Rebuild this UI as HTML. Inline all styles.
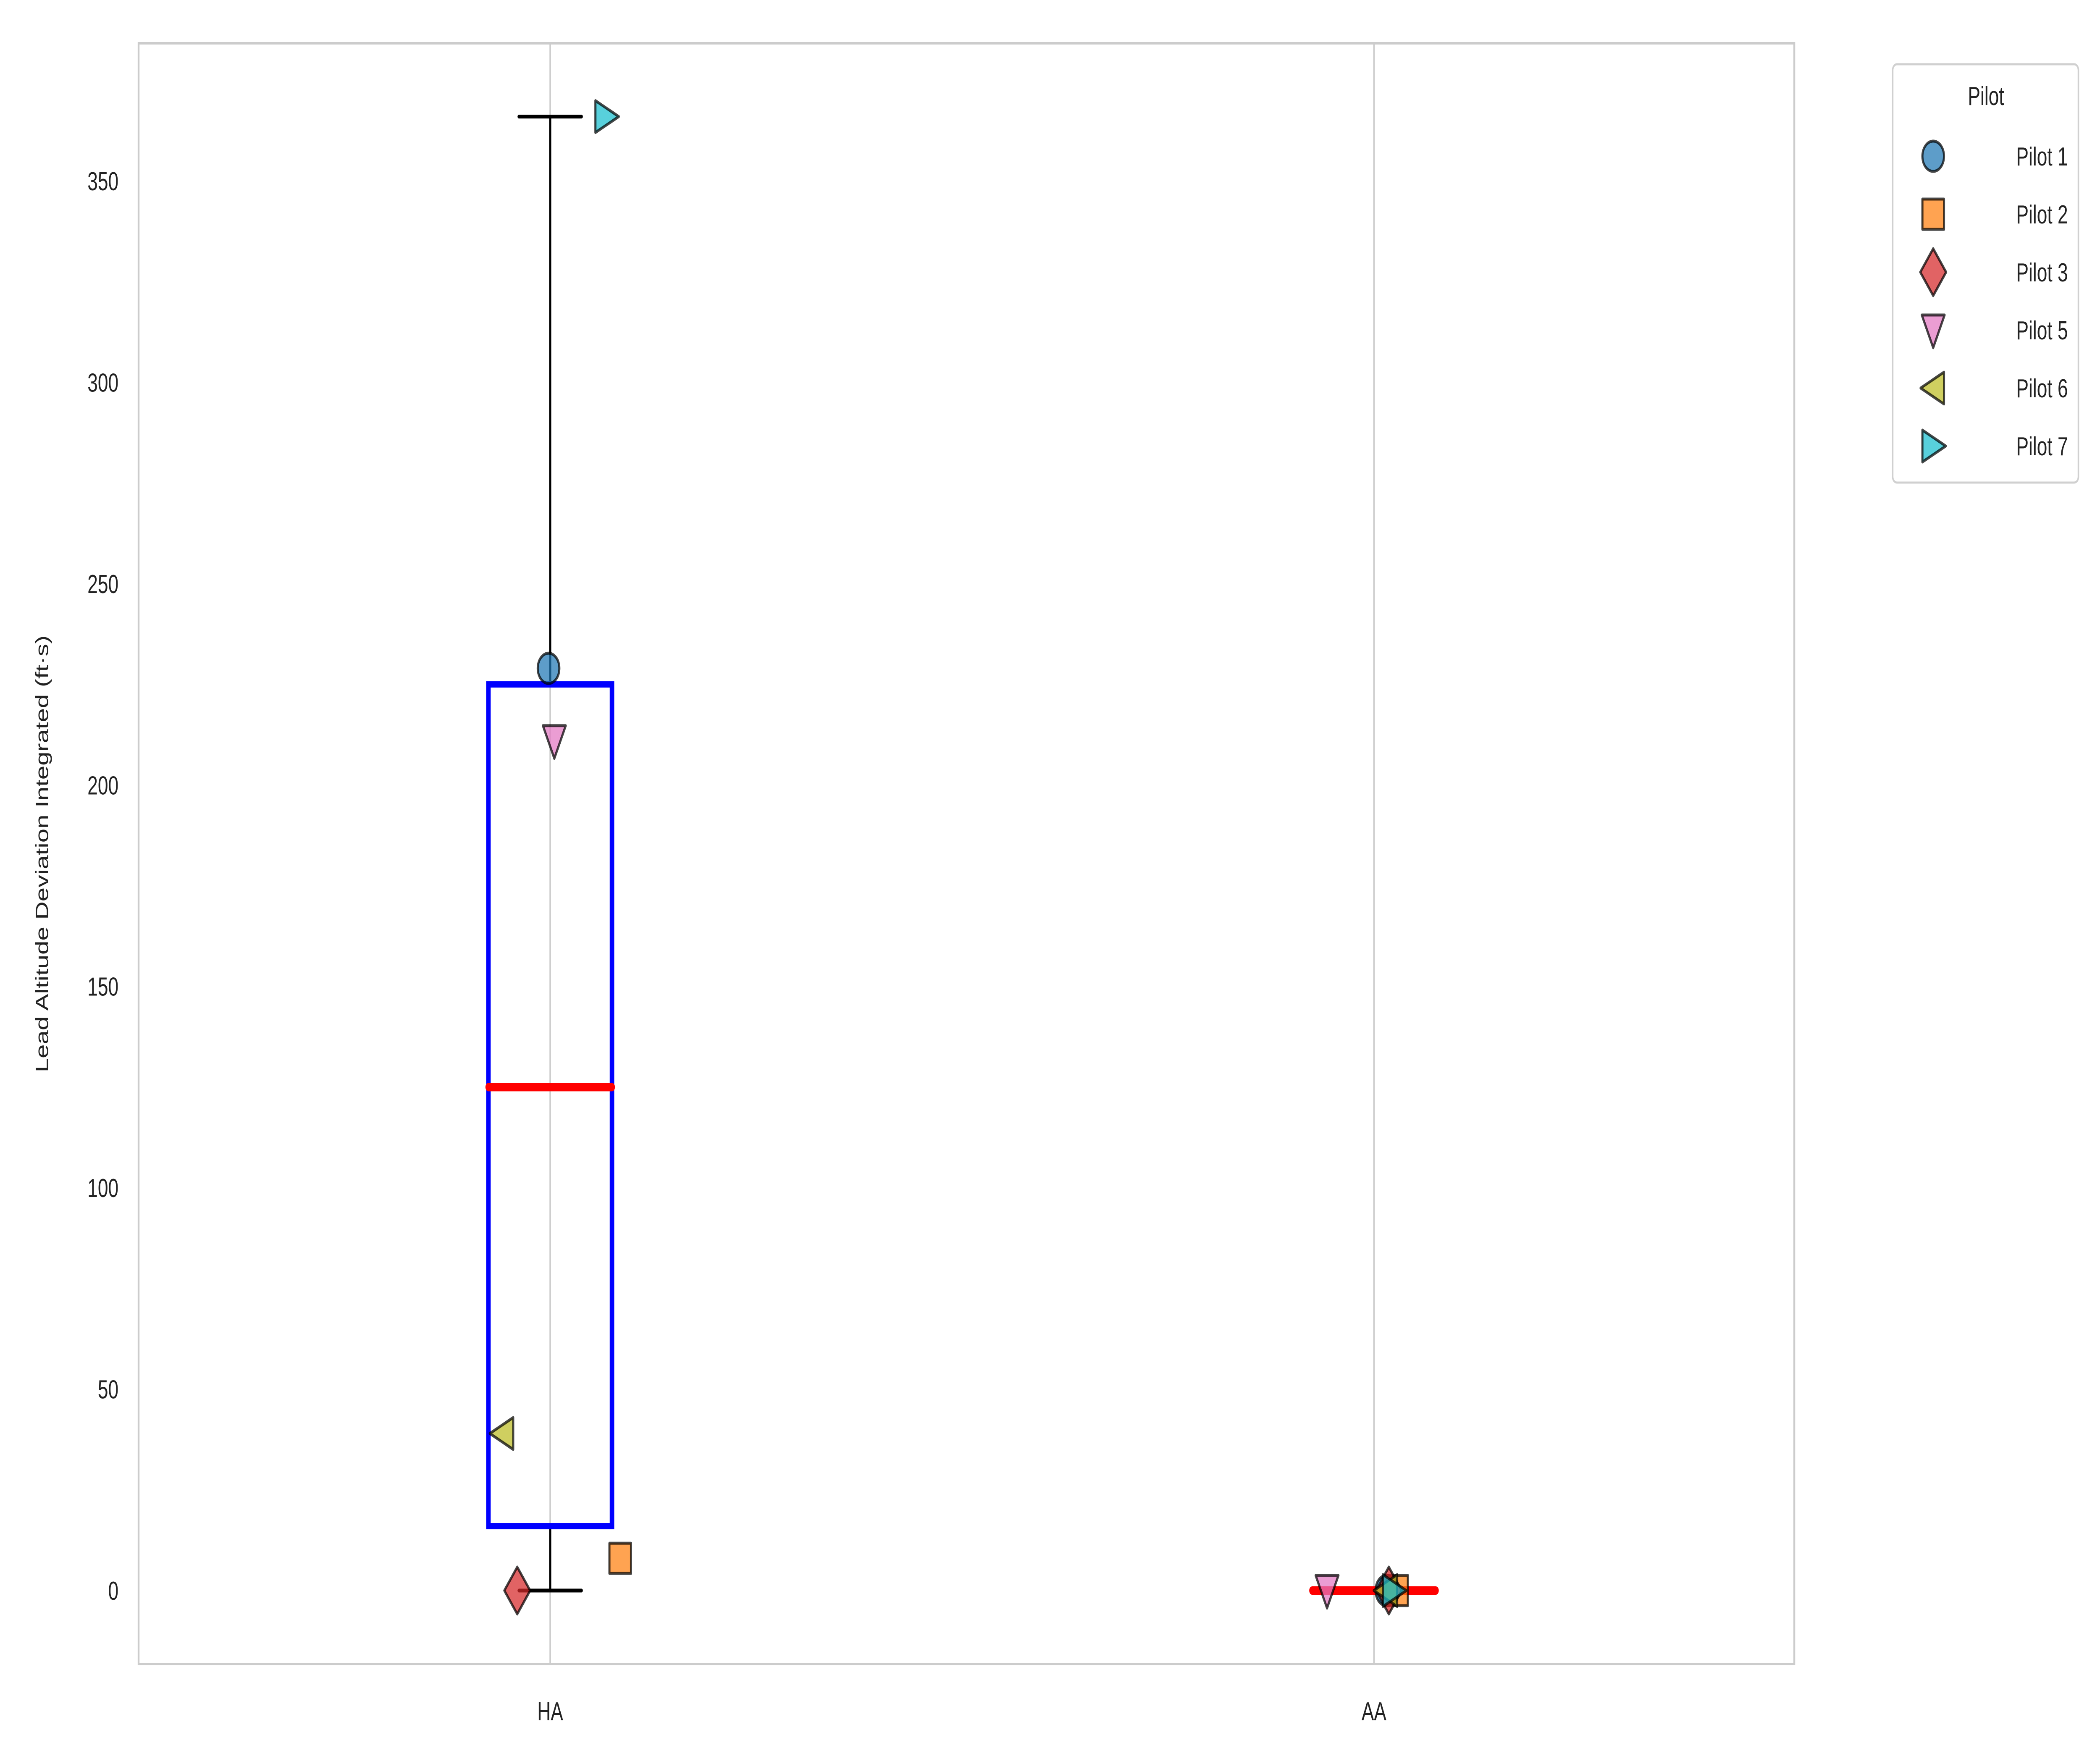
<!DOCTYPE html>
<html><head><meta charset="utf-8"><style>
html,body{margin:0;padding:0;background:#fff;width:100vw;height:100vh;overflow:hidden;}
svg{display:block;font-family:"Liberation Sans",Arial,sans-serif;width:100vw;height:100vh;}
</style></head><body>
<svg id="chart" viewBox="0 0 7000 4200" preserveAspectRatio="none" xmlns="http://www.w3.org/2000/svg">
<rect width="7000" height="4200" fill="#fff"/>
<g id="grid"></g>
<g id="boxes"></g>
<g id="points"></g>
<rect x="462" y="103" width="5519" height="3859" fill="none" stroke="#cccccc" stroke-width="6"/>
<g id="yticks"></g>
<g id="xticks"></g>
<text x="0" y="0" transform="translate(160,2033) rotate(-90)" font-size="60" fill="#222" text-anchor="middle">Lead Altitude Deviation Integrated (ft·s)</text>
<g id="legend">
<rect x="6309" y="153" width="619" height="996" rx="14" fill="#fff" stroke="#d0d0d0" stroke-width="5"/>
<text x="6620" y="250" font-size="62" fill="#222" text-anchor="middle">Pilot</text>
</g>
</svg>
<script>
const categories = ["HA", "AA"];
const pilots = ["Pilot 1", "Pilot 2", "Pilot 3", "Pilot 5", "Pilot 6", "Pilot 7"];
const colors = ["#1f77b4", "#ff7f0e", "#d62728", "#e377c2", "#bcbd22", "#17becf"];
const shapes = ["circle", "square", "diamond", "down", "left", "right"];
const haValues = [229, 8, 0, 211, 39, 366];
const aaValues = [0, 0, 0, 0, 0, 0];
const haJitter = [-0.002, 0.085, -0.04, 0.005, -0.058, 0.068];
const aaJitter = [0.015, 0.028, 0.018, -0.057, 0.015, 0.024];
const boxQ1 = [16, 0];
const boxMedian = [125, 0];
const boxQ3 = [225, 0];
const whiskerLow = [0, 0];
const whiskerHigh = [366, 0];
const yTicks = [0, 50, 100, 150, 200, 250, 300, 350];

const NS = "http://www.w3.org/2000/svg";
const X0 = 1834, XSTEP = 2746;
const xs = c => X0 + c * XSTEP;
const ys = v => 3787 - v * (3787 - 431) / 350;
function mk(tag, attrs, parent) {
  const e = document.createElementNS(NS, tag);
  for (const k in attrs) e.setAttribute(k, attrs[k]);
  parent.appendChild(e);
  return e;
}
const grid = document.getElementById("grid");
const boxes = document.getElementById("boxes");
const pts = document.getElementById("points");
const yt = document.getElementById("yticks");
const xt = document.getElementById("xticks");
const lg = document.getElementById("legend");

categories.forEach((c, i) => {
  const g = mk("line", {x1: xs(i), x2: xs(i), y1: 103, y2: 3962, stroke: "#cccccc", "stroke-width": 5}, grid);
  
  
  const t = mk("text", {x: xs(i), y: 4096, "font-size": 62, fill: "#222", "text-anchor": "middle"}, xt);
  t.textContent = c;
  
  
});
yTicks.forEach(v => {
  const t = mk("text", {x: 395, y: ys(v) + 22, "font-size": 62, fill: "#222", "text-anchor": "end"}, yt);
  t.textContent = v;
  
  
});

const BW = 0.075, CAP = 0.038;
categories.forEach((c, i) => {
  const g = mk("g", {}, boxes);
  
  
  const cx = xs(i), l = xs(i - BW), r = xs(i + BW);
  const cl = xs(i - CAP), cr = xs(i + CAP);
  mk("line", {x1: cx, x2: cx, y1: ys(boxQ3[i]), y2: ys(whiskerHigh[i]), stroke: "#000", "stroke-width": 7}, g);
  mk("line", {x1: cx, x2: cx, y1: ys(boxQ1[i]), y2: ys(whiskerLow[i]), stroke: "#000", "stroke-width": 7}, g);
  mk("line", {x1: cl, x2: cr, y1: ys(whiskerHigh[i]), y2: ys(whiskerHigh[i]), stroke: "#000", "stroke-width": 9, "stroke-linecap": "round"}, g);
  mk("line", {x1: cl, x2: cr, y1: ys(whiskerLow[i]), y2: ys(whiskerLow[i]), stroke: "#000", "stroke-width": 9, "stroke-linecap": "round"}, g);
  mk("rect", {x: l, y: ys(boxQ3[i]), width: r - l, height: Math.max(0.1, ys(boxQ1[i]) - ys(boxQ3[i])), fill: "none", stroke: "#0000ff", "stroke-width": 15}, g);
  mk("line", {x1: l, x2: r, y1: ys(boxMedian[i]), y2: ys(boxMedian[i]), stroke: "#ff0000", "stroke-width": 20, "stroke-linecap": "round"}, g);
});

function marker(shape, x, y, color, parent) {
  const st = {fill: color, "fill-opacity": 0.72, stroke: "#000", "stroke-opacity": 0.72, "stroke-width": 7, "stroke-linejoin": "round"};
  let e;
  if (shape === "circle") e = mk("circle", Object.assign({cx: x, cy: y, r: 36}, st), parent);
  else if (shape === "square") e = mk("rect", Object.assign({x: x - 36, y: y - 36, width: 72, height: 72}, st), parent);
  else {
    let p;
    if (shape === "diamond") p = [[0,-56],[43,0],[0,56],[-43,0]];
    else if (shape === "down") p = [[-38,-36],[38,-36],[0,42]];
    else if (shape === "left") p = [[-42,0],[36,-38],[36,38]];
    else p = [[42,0],[-36,-38],[-36,38]];
    e = mk("polygon", Object.assign({points: p.map(q => (x+q[0]) + "," + (y+q[1])).join(" ")}, st), parent);
  }
  return e;
}
[haValues, aaValues].forEach((vals, ci) => {
  const jit = ci === 0 ? haJitter : aaJitter;
  vals.forEach((v, k) => {
    const m = marker(shapes[k], xs(ci + jit[k]), ys(v), colors[k], pts);
    
    
  });
});

pilots.forEach((p, k) => {
  const y = 372 + k * 138;
  const g = mk("g", {}, lg);
  
  
  marker(shapes[k], 6444, y, colors[k], g);
  const t = mk("text", {x: 6893, y: y + 22, "font-size": 62, fill: "#222", "text-anchor": "end"}, g);
  t.textContent = p;
});
</script>
</body></html>
